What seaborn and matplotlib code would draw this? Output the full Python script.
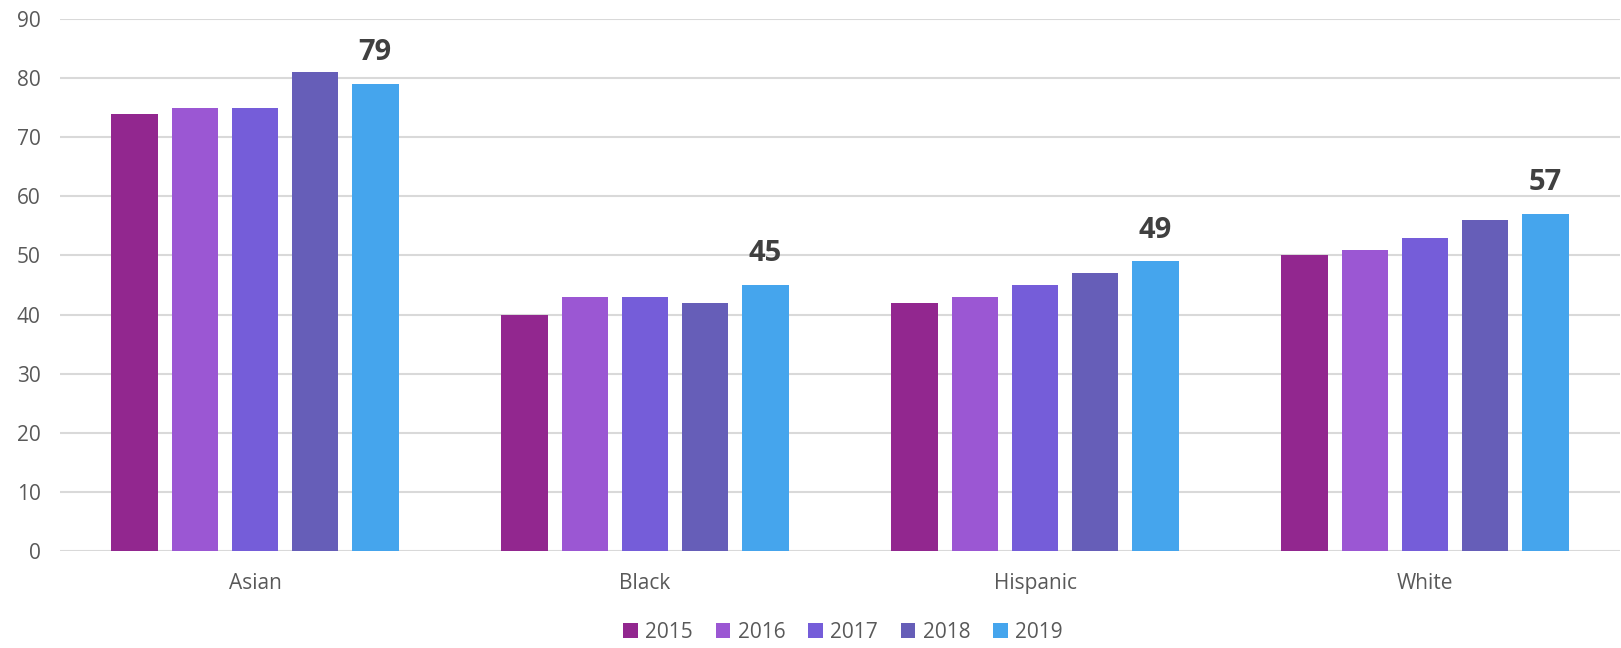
import matplotlib
matplotlib.use("Agg")
import matplotlib.pyplot as plt
import seaborn as sns
import pandas as pd

groups = ["Asian", "Black", "Hispanic", "White"]
years = ["2015", "2016", "2017", "2018", "2019"]
v2015 = [74, 40, 42, 50]
v2016 = [75, 43, 43, 51]
v2017 = [75, 43, 45, 53]
v2018 = [81, 42, 47, 56]
v2019 = [79, 45, 49, 57]
colors = ["#92278F", "#9B57D3", "#755DD9", "#665EB8", "#45A5ED"]

rows = []
for yr, vals in zip(years, [v2015, v2016, v2017, v2018, v2019]):
    for g, v in zip(groups, vals):
        rows.append({"group": g, "year": yr, "value": v})
df = pd.DataFrame(rows)

sns.set_theme(style="white")
plt.rcParams["font.family"] = ["Open Sans", "DejaVu Sans"]

fig = plt.figure(figsize=(16.21, 6.48), dpi=100)
ax = fig.add_axes([60 / 1621, 97 / 648, 1560 / 1621, (551 - 19) / 648])

sns.barplot(data=df, x="group", y="value", hue="year", order=groups,
            hue_order=years, palette=colors, saturation=1, width=0.77, gap=0.22,
            linewidth=0, errorbar=None, ax=ax, zorder=3)

ax.set_xlim(-0.5, 3.5)
ax.set_ylim(0, 90)
ax.set_yticks(range(0, 91, 10))
ax.yaxis.grid(True, color="#D9D9D9", linewidth=1.5, zorder=0)
ax.set_axisbelow(True)
for s in ax.spines.values():
    s.set_visible(False)
ax.set_xlabel("")
ax.set_ylabel("")
ax.tick_params(axis="y", length=0, pad=14, labelsize=15, labelcolor="#595959")
ax.tick_params(axis="x", length=0, pad=16, labelsize=15, labelcolor="#595959")

ax.bar_label(ax.containers[-1], labels=[str(v) for v in v2019], padding=12,
             fontsize=21, fontweight="bold", color="#404040")

handles, labels = ax.get_legend_handles_labels()
ax.get_legend().remove()
fig.legend(handles, labels, loc="center", bbox_to_anchor=(0.52, 0.024), ncol=5,
           frameon=False, fontsize=15, labelcolor="#595959",
           handlelength=0.7, handleheight=0.7, handletextpad=0.35,
           columnspacing=1.1, borderpad=0)

fig.savefig("out.png", dpi=100)
